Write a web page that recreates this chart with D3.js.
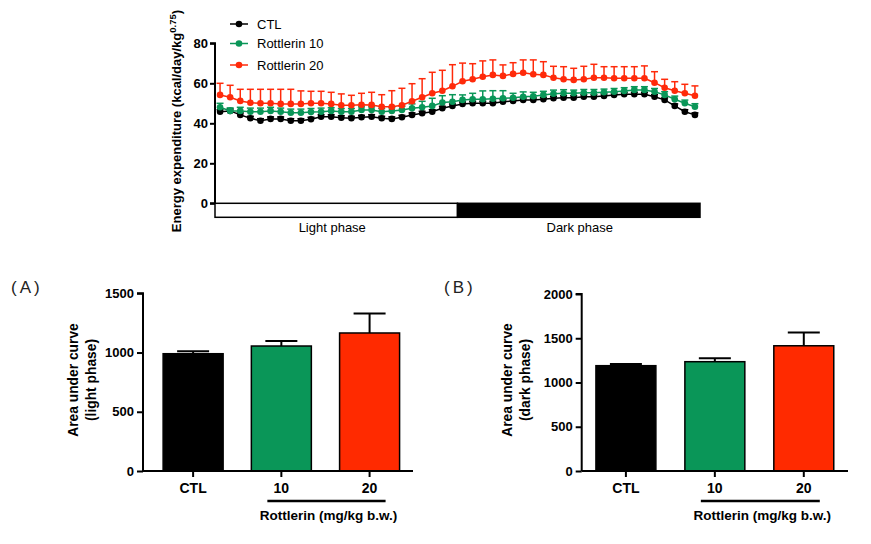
<!DOCTYPE html>
<html><head><meta charset="utf-8">
<script src="https://cdn.jsdelivr.net/npm/d3@7"></script>
<style>
body{margin:0;background:#fff;}
svg{display:block;}
text{font-family:"Liberation Sans",Arial,sans-serif;}
</style></head>
<body><svg id="c" width="871" height="544"></svg>
<script>
// ---------- data ----------
const seriesNames = ["CTL", "Rottlerin 10", "Rottlerin 20"];
const seriesColors = ["#000000", "#0a9658", "#ff2a0a"];
const ctlMean = [45.8,46.2,44.2,42.5,41.3,42.2,42.2,41.3,41.3,42,43.3,43.3,42.8,42.5,43,43.3,42.5,42.2,43,44.2,45,45.8,47.5,48.7,
                 49.7,50,50,50,50.8,51.2,51.7,51.7,52,52.5,52.8,52.8,53.3,53.3,53.7,54.2,54.5,54.5,54.5,53.3,51.7,48.7,45.8,44.2];
const ctlSem  = [1,1,1,1,1,1,1,1,1,1,1,1,1,1,1,1,1,1,1,1,1,1,1,1,1,1,1,1,1,1,1,1,1,1,1,1,1,1,1,1,1,1,1,1,1,1,1,1];
const r10Mean = [48,46.2,46.2,45.8,45.8,46.2,45.8,45.3,45.3,45.6,45.8,46.2,45.8,45.8,46.7,46.7,45.8,46.2,46.7,47.5,48,48.7,50.4,50.8,
                 51.7,52,52,52.3,52.5,52.8,53.3,53.5,54.2,54.8,55,55,55.3,55.3,55.5,55.8,56.2,56.7,56.7,55.8,54.2,52,50,48.3];
const r10Sem  = [2,1.5,1.8,1.8,1.8,1.8,1.8,1.8,1.8,1.8,1.8,1.6,1.6,1.6,1.5,1.5,1.6,1.6,1.8,2.2,3,3.8,3.4,3.5,
                 2.5,3,4.2,4,3.8,2.2,2.4,2,1.8,1.8,1.8,1.6,1.6,1.6,1.6,1.6,1.6,1.6,1.6,1.6,1.6,1.6,1.6,1.5];
const r20Mean = [54.2,53,51.2,50.3,50,50,49.7,49.7,49.7,50,50,49.7,49,49,49.3,49.2,48.3,48.3,49,51,53,55,56.3,58.5,
                 61,62,63.3,64.2,63.7,64.7,65.3,64.5,64.2,62.8,62,61.7,62,62.8,62.8,62.5,62.5,62.5,62.5,60.3,57.8,56.3,55,53.8];
const r20Sem  = [5.8,6,5.8,6.7,7,7,7.3,7.3,6.5,6,6,5.8,5.7,5,5.7,6.3,6,8,8.5,8.8,9.3,10.5,10.2,10.8,
                 9.1,7.8,7.9,7.5,5.5,5.6,6.4,7.2,6.6,5.7,6.3,5.8,6.5,6.7,5.5,5.8,5.8,5.8,6.2,5.5,4.2,4.5,4.5,4.9];
const lineTicks = [0,20,40,60,80];
const phaseLabels = ["Light phase", "Dark phase"];

const barCats = ["CTL", "10", "20"];
const barColors = ["#000000", "#0a9658", "#ff2a00"];
const lightAUC = [990, 1055, 1165];
const lightErr = [20, 42, 165];
const darkAUC  = [1190, 1235, 1415];
const darkErr  = [20, 38, 150];
const lightTicks = [0,500,1000,1500];
const darkTicks = [0,500,1000,1500,2000];

// ---------- drawing ----------
const svg = d3.select("#c");

// ===== Top line chart =====
const nPts = ctlMean.length;
const x = d3.scaleLinear().domain([-0.5, nPts - 0.5]).range([215, 700]);
const y = d3.scaleLinear().domain([0, 80]).range([203.3, 43.3]);

const topG = svg.append("g");
const yAx = topG.append("g").attr("transform", "translate(215,0)")
  .call(d3.axisLeft(y).tickValues(lineTicks).tickSize(5).tickPadding(2).tickFormat(d3.format("d")));
yAx.select(".domain").attr("stroke-width", 2).attr("d", `M-5,${y(80)}H0V${y(0)}H-5`);
yAx.selectAll(".tick line").attr("stroke-width", 2);
yAx.selectAll(".tick text").attr("font-size", 13).attr("font-weight", "bold").attr("font-family", "Liberation Sans, Arial");

// light/dark bar
topG.append("rect").attr("x", x(-0.5)).attr("y", 203.3).attr("width", x(nPts/2 - 0.5) - x(-0.5)).attr("height", 14)
  .attr("fill", "#fff").attr("stroke", "#000").attr("stroke-width", 1.5);
topG.append("rect").attr("x", x(nPts/2 - 0.5)).attr("y", 203.3).attr("width", x(nPts - 0.5) - x(nPts/2 - 0.5)).attr("height", 14)
  .attr("fill", "#000").attr("stroke", "#000").attr("stroke-width", 1.5);
topG.append("text").attr("x", (x(-0.5) + x(nPts/2 - 0.5)) / 2 - 4).attr("y", 232).attr("text-anchor", "middle")
  .attr("font-size", 13).text(phaseLabels[0]);
topG.append("text").attr("x", (x(nPts/2 - 0.5) + x(nPts - 0.5)) / 2 + 1).attr("y", 232).attr("text-anchor", "middle")
  .attr("font-size", 13).text(phaseLabels[1]);

// y title
const yt = topG.append("text").attr("transform", "translate(180.5,121) rotate(-90)").attr("text-anchor", "middle")
  .attr("font-size", 13).attr("font-weight", "bold");
yt.append("tspan").text("Energy expenditure (kcal/day/kg");
yt.append("tspan").attr("dy", -5).attr("font-size", 9.5).text("0.75");
yt.append("tspan").attr("dy", 5).text(")");

const series = [[ctlMean, ctlSem], [r10Mean, r10Sem], [r20Mean, r20Sem]];
const line = d3.line().x((d, i) => x(i)).y(d => y(d));
series.forEach(([m, s], k) => {
  const g = topG.append("g");
  const col = seriesColors[k];
  m.forEach((v, i) => {
    g.append("line").attr("x1", x(i)).attr("x2", x(i)).attr("y1", y(v)).attr("y2", y(v + s[i]))
      .attr("stroke", col).attr("stroke-width", 1.5);
    g.append("line").attr("x1", x(i) - 3.5).attr("x2", x(i) + 3.5).attr("y1", y(v + s[i])).attr("y2", y(v + s[i]))
      .attr("stroke", col).attr("stroke-width", 1.5);
  });
  g.append("path").datum(m).attr("d", line).attr("fill", "none").attr("stroke", col).attr("stroke-width", 1.5);
  g.selectAll("circle").data(m).join("circle").attr("cx", (d, i) => x(i)).attr("cy", d => y(d)).attr("r", 3.3).attr("fill", col);
});

// legend
const legY = [24, 43.5, 65];
seriesNames.forEach((n, k) => {
  const g = topG.append("g").attr("transform", `translate(0,${legY[k]})`);
  g.append("line").attr("x1", 230).attr("x2", 248).attr("stroke", seriesColors[k]).attr("stroke-width", 1.5);
  g.append("circle").attr("cx", 239).attr("r", 3.3).attr("fill", seriesColors[k]);
  g.append("text").attr("x", 257).attr("y", 4.5).attr("font-size", 13).text(n);
});

// ===== Bar charts =====
function barPanel(opts) {
  const g = svg.append("g");
  const yS = d3.scaleLinear().domain([0, opts.max]).range([471, opts.yTop]);
  const xS = d3.scaleBand().domain(barCats).range([opts.x0, opts.x1]).paddingInner(opts.pi).paddingOuter(opts.po).align(opts.align);
  barCats.forEach((c, i) => {
    const v = opts.vals[i], e = opts.errs[i];
    const cx = xS(c) + xS.bandwidth() / 2;
    g.append("line").attr("x1", cx).attr("x2", cx).attr("y1", yS(v)).attr("y2", yS(v + e)).attr("stroke", "#000").attr("stroke-width", 2);
    g.append("line").attr("x1", cx - 16).attr("x2", cx + 16).attr("y1", yS(v + e)).attr("y2", yS(v + e)).attr("stroke", "#000").attr("stroke-width", 2);
    g.append("rect").attr("x", xS(c)).attr("y", yS(v)).attr("width", xS.bandwidth()).attr("height", yS(0) - yS(v))
      .attr("fill", barColors[i]).attr("stroke", "#000").attr("stroke-width", 1.5);
  });
  const ya = g.append("g").attr("transform", `translate(${opts.x0},0)`)
    .call(d3.axisLeft(yS).tickValues(opts.ticks).tickSize(6).tickPadding(3).tickFormat(d3.format("d")));
  ya.select(".domain").attr("stroke-width", 2).attr("d", `M-6,${yS(opts.max)}H0V${yS(0)}`);
  ya.selectAll(".tick line").attr("stroke-width", 2);
  ya.selectAll(".tick text").attr("font-size", 13).attr("font-weight", "bold").attr("font-family", "Liberation Sans, Arial");
  const xa = g.append("g").attr("transform", "translate(0,471)")
    .call(d3.axisBottom(xS).tickSize(6).tickPadding(6));
  xa.select(".domain").attr("stroke-width", 2).attr("d", `M${opts.x0},0H${opts.x1}`);
  xa.selectAll(".tick line").attr("stroke-width", 2);
  xa.selectAll(".tick text").attr("font-size", 14).attr("font-weight", "bold").attr("font-family", "Liberation Sans, Arial");
  const c1 = xS("10") + xS.bandwidth() / 2, c2 = xS("20") + xS.bandwidth() / 2;
  g.append("line").attr("x1", c1 - 14).attr("x2", c2 + 16).attr("y1", 501).attr("y2", 501).attr("stroke", "#000").attr("stroke-width", 2.5);
  g.append("text").attr("x", (c1 + c2) / 2 + 3).attr("y", 520).attr("text-anchor", "middle")
    .attr("font-size", 13.5).attr("font-weight", "bold").text("Rottlerin (mg/kg b.w.)");
  const t = g.append("text").attr("transform", `translate(${opts.tx},380) rotate(-90)`).attr("text-anchor", "middle")
    .attr("font-size", 13.8).attr("font-weight", "bold");
  t.append("tspan").attr("x", 0).attr("y", 0).text("Area under curve");
  t.append("tspan").attr("x", 0).attr("y", 18).text(opts.sub);
  g.append("text").attr("x", opts.lx).attr("y", 293).attr("font-size", 17).attr("letter-spacing", 3)
    .attr("font-family", "Noto Sans CJK KR, Noto Sans, sans-serif").attr("fill", "#222").text(opts.letter);
}
barPanel({max: 1500, yTop: 293.3, x0: 143, x1: 413, pi: 0.32, po: 0.19, align: 0.6, vals: lightAUC, errs: lightErr,
  ticks: lightTicks, tx: 78, sub: "(light phase)", letter: "(A)", lx: 11});
barPanel({max: 2000, yTop: 294, x0: 581.7, x1: 848, pi: 0.326, po: 0.16, align: 0.5, vals: darkAUC, errs: darkErr,
  ticks: darkTicks, tx: 512, sub: "(dark phase)", letter: "(B)", lx: 444});
</script></body></html>
